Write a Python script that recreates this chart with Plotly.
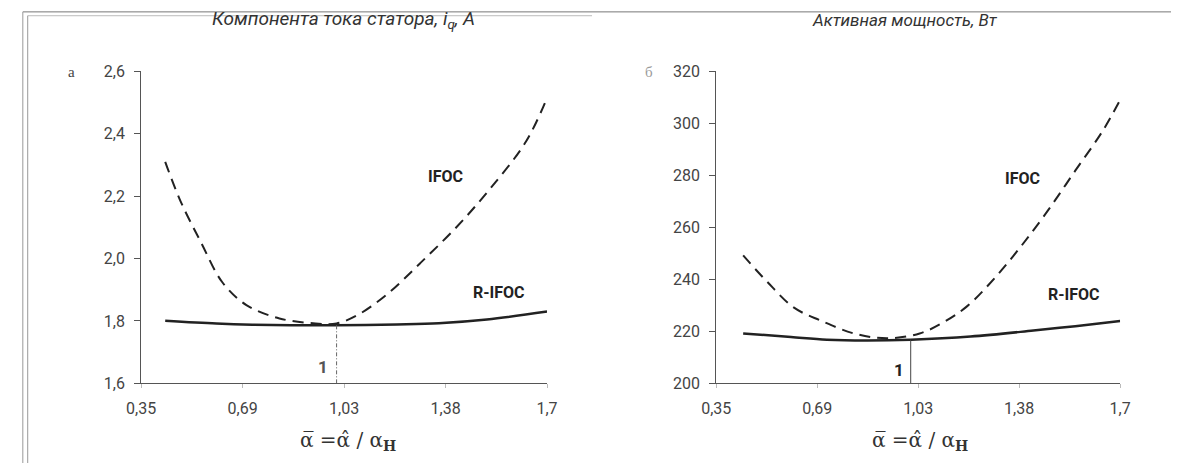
import plotly.graph_objects as go

W, H = 1182, 473

# ---------------- data ----------------
# Panel a: stator current component i_q, A
a_ifoc_x = [0.43, 0.48, 0.55, 0.62, 0.70, 0.81, 0.93, 1.00, 1.07, 1.17, 1.28, 1.40, 1.51, 1.63, 1.70]
a_ifoc_y = [2.31, 2.186, 2.05, 1.924, 1.851, 1.808, 1.792, 1.792, 1.819, 1.887, 1.987, 2.102, 2.223, 2.375, 2.515]
a_rifoc_x = [0.43, 0.60, 0.72, 0.85, 1.00, 1.20, 1.34, 1.50, 1.70]
a_rifoc_y = [1.801, 1.792, 1.788, 1.786, 1.786, 1.789, 1.793, 1.805, 1.830]

# Panel б: active power, W
b_ifoc_x = [0.44, 0.52, 0.61, 0.70, 0.81, 0.92, 1.03, 1.11, 1.19, 1.28, 1.37, 1.46, 1.55, 1.64, 1.70]
b_ifoc_y = [249.2, 239.1, 229.1, 224.1, 219.2, 217.3, 219.2, 223.5, 229.8, 240.4, 252.9, 266.7, 281.8, 296.8, 309.0]
b_rifoc_x = [0.44, 0.60, 0.72, 0.85, 1.00, 1.20, 1.41, 1.55, 1.70]
b_rifoc_y = [219.2, 217.8, 216.8, 216.5, 216.8, 218.0, 220.3, 222.0, 224.0]

vline_x = 1.0
a_vline_y = [1.6, 1.786]
b_vline_y = [200, 216.8]

x_tick_text = ["0,35", "0,69", "1,03", "1,38", "1,7"]
x_tick_pos = [0.35, 0.6875, 1.025, 1.3625, 1.70]
a_y_ticks = [1.6, 1.8, 2.0, 2.2, 2.4, 2.6]
a_y_text = ["1,6", "1,8", "2,0", "2,2", "2,4", "2,6"]
b_y_ticks = [200, 220, 240, 260, 280, 300, 320]
b_y_text = ["200", "220", "240", "260", "280", "300", "320"]

title_a = "<i>Компонента тока статора, i<sub>q</sub>, A</i>"
title_b = "<i>Активная мощность, Вт</i>"
formula = "α̅ =α̂ / α<sub><b>Н</b></sub>"

# ---------------- figure ----------------
def px(xp):
    return xp / W

def py(yp):
    return 1 - yp / H

FONT = "Liberation Sans Narrow, Arial Narrow, Roboto, Arial, sans-serif"
dash_style = "11px,7px"

fig = go.Figure()

fig.add_trace(go.Scatter(x=a_ifoc_x, y=a_ifoc_y, mode="lines", line=dict(color="#222", width=2, dash=dash_style, shape="spline"), xaxis="x", yaxis="y", showlegend=False))
fig.add_trace(go.Scatter(x=a_rifoc_x, y=a_rifoc_y, mode="lines", line=dict(color="#222", width=2.5, shape="spline"), xaxis="x", yaxis="y", showlegend=False))
fig.add_trace(go.Scatter(x=[vline_x, vline_x], y=a_vline_y, mode="lines", line=dict(color="#666", width=1, dash="4px,2px,1px,2px"), xaxis="x", yaxis="y", showlegend=False))

fig.add_trace(go.Scatter(x=b_ifoc_x, y=b_ifoc_y, mode="lines", line=dict(color="#222", width=2, dash=dash_style, shape="spline"), xaxis="x2", yaxis="y2", showlegend=False))
fig.add_trace(go.Scatter(x=b_rifoc_x, y=b_rifoc_y, mode="lines", line=dict(color="#222", width=2.5, shape="spline"), xaxis="x2", yaxis="y2", showlegend=False))
fig.add_trace(go.Scatter(x=[vline_x, vline_x], y=b_vline_y, mode="lines", line=dict(color="#444", width=1), xaxis="x2", yaxis="y2", showlegend=False))

ydom = [py(390), py(65)]
xa_common = dict(range=[0.35, 1.70], tickvals=x_tick_pos, ticktext=x_tick_text, showgrid=False, zeroline=False,
                 showline=True, linecolor="#555", linewidth=1, ticks="outside", ticklen=4, tickcolor="#bbb",
                 ticklabelstandoff=6,
                 tickfont=dict(family=FONT, size=16, color="#444"), fixedrange=True)
ya_common = dict(showgrid=False, zeroline=False, showline=True, linecolor="#555", linewidth=1,
                 ticks="outside", ticklen=6, tickcolor="#555", ticklabelstandoff=6,
                 tickfont=dict(family=FONT, size=16, color="#444"), fixedrange=True)

fig.update_layout(
    width=W, height=H, margin=dict(l=0, r=0, t=0, b=0),
    paper_bgcolor="white", plot_bgcolor="white",
    xaxis=dict(domain=[px(129), px(544)], anchor="y", **xa_common),
    yaxis=dict(domain=ydom, anchor="x", range=[1.6, 2.6], tickvals=a_y_ticks, ticktext=a_y_text, **ya_common),
    xaxis2=dict(domain=[px(717), px(1130)], anchor="y2", **xa_common),
    yaxis2=dict(domain=ydom, anchor="x2", range=[200, 320], tickvals=b_y_ticks, ticktext=b_y_text, **ya_common),
)

annotations = [
    dict(x=px(336), y=py(11), text=title_a, font=dict(family=FONT, size=19, color="#333")),
    dict(x=px(910), y=py(11), text=title_b, font=dict(family=FONT, size=17, color="#333")),
    dict(x=px(58), y=py(66), text="a", font=dict(family="Liberation Serif, serif", size=15, color="#444")),
    dict(x=px(648), y=py(66), text="б", font=dict(family="Liberation Serif, serif", size=15, color="#999")),
    dict(x=px(440), y=py(175), text="<b>IFOC</b>", font=dict(family=FONT, size=16, color="#222")),
    dict(x=px(495), y=py(295), text="<b>R-IFOC</b>", font=dict(family=FONT, size=16, color="#222")),
    dict(x=px(1030), y=py(177), text="<b>IFOC</b>", font=dict(family=FONT, size=16, color="#222")),
    dict(x=px(1083), y=py(297), text="<b>R-IFOC</b>", font=dict(family=FONT, size=16, color="#222")),
    dict(x=px(315), y=py(373), text="<b>1</b>", font=dict(family=FONT, size=17, color="#555")),
    dict(x=px(904), y=py(376), text="<b>1</b>", font=dict(family=FONT, size=17, color="#222")),
    dict(x=px(340), y=py(450), text=formula, font=dict(family="DejaVu Serif, Liberation Serif, serif", size=20, color="#333")),
    dict(x=px(925), y=py(450), text=formula, font=dict(family="DejaVu Serif, Liberation Serif, serif", size=20, color="#333")),
]
for a in annotations:
    a.update(xref="paper", yref="paper", showarrow=False, xanchor="center", yanchor="middle")
fig.update_layout(annotations=annotations)

shapes = [
    dict(type="line", x0=px(8), x1=1, y0=py(3), y1=py(3), line=dict(color="#777", width=1)),
    dict(type="line", x0=px(13), x1=px(590), y0=py(7), y1=py(7), line=dict(color="#bbb", width=1)),
    dict(type="line", x0=px(8), x1=px(8), y0=0, y1=py(3), line=dict(color="#999", width=1)),
    dict(type="line", x0=px(13), x1=px(13), y0=0, y1=py(7), line=dict(color="#999", width=1)),
]
for s in shapes:
    s.update(xref="paper", yref="paper")
fig.update_layout(shapes=shapes)

fig.write_html("out.html", config={"displayModeBar": False},
               post_script="document.body.style.margin='0';document.body.style.overflow='hidden';")
